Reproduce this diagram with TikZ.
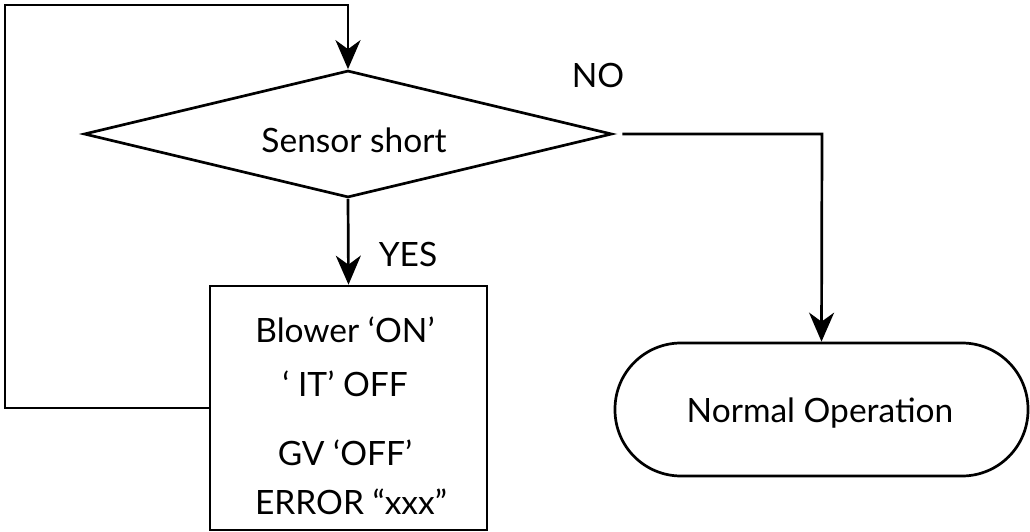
\documentclass[tikz,border=0pt]{standalone}
\usepackage{fontspec}
\setmainfont{Lato}
\usetikzlibrary{shapes.geometric,arrows.meta}
\begin{document}
\begin{tikzpicture}[x=1pt,y=-1pt,
  every node/.style={font=\fontsize{33.5}{40}\selectfont, inner sep=0pt},
  ln/.style={line width=2.7pt},
  arr/.style={ln, -{Stealth[length=29pt,width=25pt,inset=9pt]}},
  boxtext/.style={anchor=base},
]
\useasboundingbox (0,0) rectangle (1030,532);
\node[draw, ln, diamond, minimum width=528pt, minimum height=127pt] (d) at (348,134) {};
\node[anchor=base] (dt) at (354,152) {Sensor short};
\node[draw, ln, rectangle, minimum width=277pt, minimum height=244pt] (b) at (348.5,408) {};
\node[boxtext] (t1) at (345,342) {Blower ‘ON’};
\node[boxtext] (t2) at (345,396) {‘ IT’ OFF};
\node[boxtext] (t3) at (345,465) {GV ‘OFF’};
\node[boxtext] (t4) at (351,514) {ERROR “xxx”};
\node[draw, ln, rounded corners=66pt, minimum width=413pt, minimum height=133pt] (n) at (821.5,409.5) {};
\node[anchor=base] (nt) at (820,422) {Normal Operation};
\node[anchor=base] (no) at (598,88) {NO};
\node[anchor=base] (yes) at (408,266) {YES};
\coordinate (c1) at (5,408);
\coordinate (c2) at (5,5);
\coordinate (c3) at (348,5);
\coordinate (c4) at (822,134);
\draw[arr] (b.west) -- (c1) -- (c2) -- (c3) -- (d.north);
\draw[arr] (d.south) -- (b.north);
\draw[arr, shorten <=9pt] (d.east) -- (c4) -- (n.north);
\end{tikzpicture}
\end{document}
